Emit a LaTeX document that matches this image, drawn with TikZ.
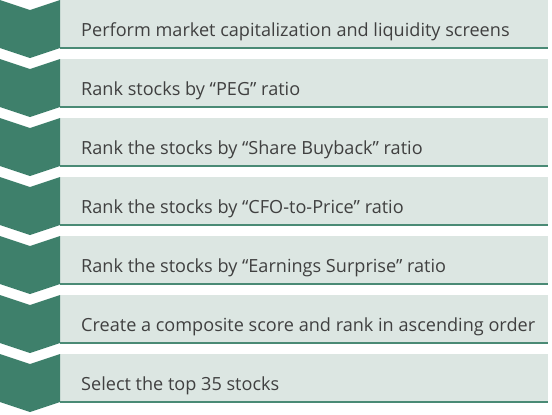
\documentclass[tikz,border=0pt]{standalone}
\usepackage{fontspec}
\setmainfont{Open Sans}
\definecolor{chev}{HTML}{3E806B}
\definecolor{boxfill}{HTML}{DCE6E2}
\definecolor{rule}{HTML}{4A8A75}
\definecolor{txt}{HTML}{404040}
\begin{document}
\begin{tikzpicture}[x=1pt,y=-1pt,
  stepbox/.style={fill=boxfill,draw=none,minimum width=488pt,minimum height=48pt,anchor=north west,inner sep=0pt},
  steptext/.style={anchor=base west,text=txt,font=\fontsize{18.1}{22}\selectfont,inner sep=0pt},
  ruleline/.style={draw=rule,line width=2.2pt},
  chevshape/.style={fill=chev,draw=none}]
\useasboundingbox (0,0) rectangle (552,415);
\foreach \i/\t in {0/{Perform market capitalization and liquidity screens},
                   1/{Rank stocks by “PEG” ratio},
                   2/{Rank the stocks by “Share Buyback” ratio},
                   3/{Rank the stocks by “CFO-to-Price” ratio},
                   4/{Rank the stocks by “Earnings Surprise” ratio},
                   5/{Create a composite score and rank in ascending order},
                   6/{Select the top 35 stocks}} {
  \pgfmathsetmacro{\top}{59*\i}
  \node[stepbox] (b\i) at (60,\top) {};
  \coordinate (l\i) at (60,\top+48);
  \coordinate (r\i) at (548,\top+48);
  \draw[ruleline] (l\i) -- (r\i);
  \fill[chevshape] (0,\top) -- (30,\top+10) -- (60,\top) -- (60,\top+48) -- (30,\top+58) -- (0,\top+48) -- cycle;
  \node[steptext] (t\i) at (81,\top+36) {\t};
}
\end{tikzpicture}
\end{document}
